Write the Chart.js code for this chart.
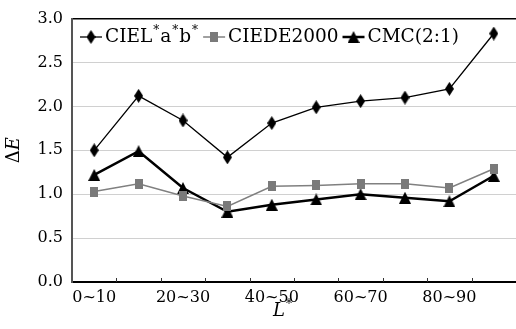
<!DOCTYPE html>
<html><head><meta charset="utf-8">
<script src="https://cdn.jsdelivr.net/npm/chart.js@4/dist/chart.umd.min.js"></script>
<style>html,body{margin:0;padding:0;background:#fff}#wrap{width:516px;height:329px}</style>
</head><body><div id="wrap"><canvas id="c" width="516" height="329"></canvas></div>
<script>
const categories = ['0~10','10~20','20~30','30~40','40~50','50~60','60~70','70~80','80~90','90~100'];
const cielab    = [1.50, 2.12, 1.84, 1.42, 1.81, 1.99, 2.06, 2.10, 2.20, 2.83];
const ciede2000 = [1.03, 1.12, 0.98, 0.86, 1.09, 1.10, 1.12, 1.12, 1.07, 1.29];
const cmc       = [1.22, 1.49, 1.07, 0.80, 0.88, 0.94, 1.00, 0.96, 0.92, 1.21];
const seriesNames = ['CIEL*a*b*', 'CIEDE2000', 'CMC(2:1)'];
const yTicks = [0, 0.5, 1.0, 1.5, 2.0, 2.5, 3.0];
const xTitle = 'L*';
const yTitle = 'ΔE';

const FONT = "'DejaVu Serif', 'Liberation Serif', serif";

function makeMarker(kind, color) {
  const c = document.createElement('canvas');
  let ctx;
  if (kind === 'diamond') {
    c.width = 9; c.height = 14; ctx = c.getContext('2d'); ctx.fillStyle = color; ctx.beginPath();
    ctx.moveTo(4.5, 0); ctx.lineTo(9, 7); ctx.lineTo(4.5, 14); ctx.lineTo(0, 7);
  } else if (kind === 'square') {
    c.width = 8; c.height = 10; ctx = c.getContext('2d'); ctx.fillStyle = color; ctx.beginPath();
    ctx.rect(0, 0, 8, 10);
  } else {
    c.width = 12; c.height = 12; ctx = c.getContext('2d'); ctx.fillStyle = color; ctx.beginPath();
    ctx.moveTo(6, 0); ctx.lineTo(12, 12); ctx.lineTo(0, 12);
  }
  ctx.closePath(); ctx.fill();
  return c;
}
const diamond = makeMarker('diamond', '#000');
const square = makeMarker('square', '#7a7a7a');
const triangle = makeMarker('triangle', '#000');

// draws text where '*' is a superscript; italic chosen per char
function drawSupText(ctx, text, x, y, size, italicSet) {
  for (const ch of text) {
    if (ch === '*') {
      ctx.font = Math.round(size * 0.65) + 'px ' + FONT;
      x += 1;
      ctx.fillText('*', x, y - size * 0.32);
      x += ctx.measureText('*').width + 1;
    } else {
      ctx.font = (italicSet && italicSet.includes(ch) ? 'italic ' : '') + size + 'px ' + FONT;
      ctx.fillText(ch, x, y);
      x += ctx.measureText(ch).width;
    }
  }
  return x;
}
function measureSupText(ctx, text, size, italicSet) {
  let w = 0;
  for (const ch of text) {
    if (ch === '*') { ctx.font = Math.round(size * 0.65) + 'px ' + FONT; w += ctx.measureText('*').width + 2; }
    else { ctx.font = (italicSet && italicSet.includes(ch) ? 'italic ' : '') + size + 'px ' + FONT; w += ctx.measureText(ch).width; }
  }
  return w;
}

const insideLegend = {
  id: 'insideLegend',
  afterDraw(chart) {
    const ctx = chart.ctx;
    const y = 37;
    let x = 80;
    ctx.save();
    chart.data.datasets.forEach(ds => {
      ctx.strokeStyle = ds.borderColor;
      ctx.lineWidth = ds.borderWidth;
      ctx.beginPath(); ctx.moveTo(x, y); ctx.lineTo(x + 22, y); ctx.stroke();
      const img = ds.pointStyle;
      ctx.drawImage(img, x + 11 - img.width / 2, y - img.height / 2);
      x += 25;
      ctx.fillStyle = '#000';
      ctx.textBaseline = 'middle';
      x = drawSupText(ctx, ds.label, x, y, 18.5, null);
      x += 4;
    });
    ctx.restore();
  }
};

const axisTitles = {
  id: 'axisTitles',
  afterDraw(chart) {
    const ctx = chart.ctx, ca = chart.chartArea;
    ctx.save();
    ctx.fillStyle = '#000';
    ctx.textBaseline = 'middle';
    const size = 18;
    const wx = measureSupText(ctx, xTitle, size, 'L');
    drawSupText(ctx, xTitle, (ca.left + ca.right) / 2 - 11 - wx / 2, 311, size, 'L');
    ctx.translate(14, (ca.top + ca.bottom) / 2);
    ctx.rotate(-Math.PI / 2);
    const wy = measureSupText(ctx, yTitle, size, 'E');
    drawSupText(ctx, yTitle, -wy / 2, 0, size, 'E');
    ctx.restore();
  }
};

const innerTicks = {
  id: 'innerTicks',
  afterDatasetsDraw(chart) {
    const xs = chart.scales.x, ctx = chart.ctx;
    const bottom = chart.chartArea.bottom;
    ctx.save();
    ctx.strokeStyle = '#333'; ctx.lineWidth = 1;
    for (let i = 1; i < categories.length; i++) {
      const px = Math.round((xs.getPixelForValue(i - 1) + xs.getPixelForValue(i)) / 2) + 0.5;
      ctx.beginPath(); ctx.moveTo(px, bottom); ctx.lineTo(px, bottom - 4); ctx.stroke();
    }
    ctx.restore();
  }
};

new Chart(document.getElementById('c'), {
  type: 'line',
  data: {
    labels: categories,
    datasets: [
      { label: seriesNames[0], data: cielab, borderColor: '#000', borderWidth: 1.3, pointStyle: diamond, tension: 0, fill: false },
      { label: seriesNames[1], data: ciede2000, borderColor: '#808080', borderWidth: 1.5, pointStyle: square, tension: 0, fill: false },
      { label: seriesNames[2], data: cmc, borderColor: '#000', borderWidth: 2.5, pointStyle: triangle, tension: 0, fill: false }
    ]
  },
  options: {
    responsive: false,
    animation: false,
    devicePixelRatio: 1,
    layout: { autoPadding: false, padding: { top: 11, right: 0, bottom: 0, left: 0 } },
    plugins: { legend: { display: false }, tooltip: { enabled: false } },
    scales: {
      x: {
        type: 'category',
        offset: true,
        grid: { display: false, drawTicks: false },
        border: { display: true, color: '#000', width: 2 },
        ticks: {
          autoSkip: false, maxRotation: 0, padding: 6, color: '#000',
          font: { family: FONT, size: 16 },
          callback: (v, i) => (i % 2 === 0 ? categories[i] : '')
        },
        title: { display: false },
        afterFit: s => { s.height = 47; s.paddingLeft = 0; s.paddingRight = 0; }
      },
      y: {
        min: 0, max: 3,
        afterBuildTicks: s => { s.ticks = yTicks.map(v => ({ value: v })); },
        grid: {
          drawTicks: false,
          color: c => (c.tick && c.tick.value === 3 ? '#000' : '#d0d0d0'),
          lineWidth: c => (c.tick && c.tick.value === 3 ? 1.5 : 1)
        },
        border: { display: true, color: '#555', width: 2 },
        ticks: { padding: 9, color: '#000', font: { family: FONT, size: 16 }, callback: v => Number(v).toFixed(1) },
        title: { display: false },
        afterFit: s => { s.width = 72; }
      }
    }
  },
  plugins: [innerTicks, insideLegend, axisTitles]
});
</script></body></html>
